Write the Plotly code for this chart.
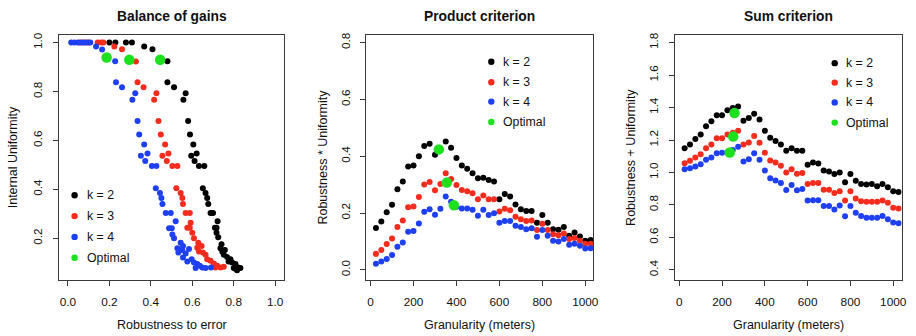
import plotly.graph_objects as go

# ---------------- data ----------------
# Panel 1: Balance of gains (Robustness to error vs Internal Uniformity)
bal_k2_x = [0.200, 0.229, 0.280, 0.309, 0.368, 0.408, 0.480, 0.480, 0.512, 0.568, 0.557, 0.580, 0.589,
            0.605, 0.621, 0.595, 0.611, 0.632, 0.658, 0.651, 0.664, 0.672, 0.677, 0.688, 0.700, 0.722,
            0.709, 0.717, 0.717, 0.725, 0.741, 0.736, 0.757, 0.745, 0.752, 0.768, 0.784, 0.775, 0.792,
            0.808, 0.800, 0.821, 0.832, 0.816, 0.810]
bal_k2_y = [1.000, 1.000, 1.000, 1.000, 0.984, 0.973, 0.924, 0.838, 0.818, 0.793, 0.766, 0.680, 0.624,
            0.584, 0.547, 0.538, 0.516, 0.496, 0.496, 0.405, 0.385, 0.365, 0.340, 0.304, 0.304, 0.270,
            0.243, 0.243, 0.223, 0.205, 0.176, 0.160, 0.152, 0.145, 0.133, 0.124, 0.115, 0.105, 0.101,
            0.095, 0.079, 0.081, 0.079, 0.070, 0.075]
bal_k3_x = [0.056, 0.070, 0.085, 0.100, 0.144, 0.160, 0.171, 0.224, 0.261, 0.328, 0.336, 0.365, 0.427,
            0.416, 0.437, 0.448, 0.469, 0.485, 0.456, 0.477, 0.504, 0.528, 0.523, 0.544, 0.552, 0.555,
            0.568, 0.588, 0.592, 0.576, 0.588, 0.600, 0.608, 0.629, 0.624, 0.645, 0.632, 0.651, 0.664,
            0.672, 0.688, 0.704, 0.720, 0.736, 0.712, 0.752]
bal_k3_y = [1.000, 1.000, 1.000, 1.000, 1.000, 1.000, 1.000, 0.984, 0.973, 0.923, 0.838, 0.818, 0.793,
            0.766, 0.680, 0.624, 0.584, 0.547, 0.538, 0.516, 0.496, 0.496, 0.405, 0.385, 0.365, 0.340,
            0.304, 0.304, 0.264, 0.243, 0.243, 0.223, 0.200, 0.182, 0.162, 0.169, 0.146, 0.142, 0.133,
            0.115, 0.108, 0.097, 0.088, 0.081, 0.081, 0.084]
bal_k4_x = [0.016, 0.032, 0.048, 0.064, 0.080, 0.094, 0.108, 0.136, 0.165, 0.228, 0.232, 0.261, 0.325,
            0.311, 0.336, 0.344, 0.368, 0.384, 0.352, 0.373, 0.405, 0.427, 0.424, 0.444, 0.451, 0.456,
            0.472, 0.496, 0.520, 0.488, 0.501, 0.504, 0.512, 0.544, 0.555, 0.528, 0.552, 0.584, 0.533,
            0.568, 0.555, 0.597, 0.576, 0.608, 0.624, 0.636, 0.648, 0.664, 0.616, 0.690]
bal_k4_y = [1.000, 1.000, 1.000, 1.000, 1.000, 1.000, 1.000, 0.984, 0.972, 0.924, 0.838, 0.818, 0.793,
            0.766, 0.680, 0.624, 0.584, 0.547, 0.538, 0.516, 0.496, 0.496, 0.405, 0.385, 0.365, 0.340,
            0.304, 0.304, 0.270, 0.241, 0.241, 0.216, 0.200, 0.182, 0.169, 0.160, 0.152, 0.156, 0.142,
            0.138, 0.122, 0.115, 0.105, 0.101, 0.095, 0.088, 0.081, 0.079, 0.079, 0.081]
bal_opt_x = [0.187, 0.296, 0.445]
bal_opt_y = [0.939, 0.930, 0.930]

# Panels 2 and 3: granularity (meters)
granularity = [25, 50, 75, 100, 125, 150, 175, 200, 225, 250, 275, 300, 325, 350, 375, 400, 425, 450,
               475, 500, 525, 550, 575, 600, 625, 650, 675, 700, 725, 750, 775, 800, 825, 850, 875, 900,
               925, 950, 975, 1000, 1025]

prod_k2 = [0.147, 0.170, 0.203, 0.229, 0.284, 0.311, 0.364, 0.367, 0.400, 0.436, 0.444, 0.405, 0.425,
           0.452, 0.430, 0.394, 0.367, 0.356, 0.340, 0.322, 0.324, 0.316, 0.311, 0.248, 0.267, 0.258,
           0.230, 0.213, 0.207, 0.207, 0.166, 0.193, 0.166, 0.143, 0.141, 0.151, 0.120, 0.131, 0.117,
           0.102, 0.105]
prod_k3 = [0.056, 0.070, 0.091, 0.110, 0.151, 0.174, 0.220, 0.223, 0.256, 0.300, 0.309, 0.280, 0.302,
           0.340, 0.320, 0.299, 0.281, 0.277, 0.270, 0.248, 0.262, 0.248, 0.248, 0.205, 0.215, 0.210,
           0.187, 0.178, 0.172, 0.174, 0.140, 0.162, 0.140, 0.125, 0.122, 0.128, 0.108, 0.112, 0.102,
           0.092, 0.092]
prod_k4 = [0.021, 0.029, 0.038, 0.052, 0.081, 0.096, 0.134, 0.137, 0.163, 0.204, 0.213, 0.194, 0.215,
           0.258, 0.240, 0.222, 0.216, 0.216, 0.211, 0.190, 0.211, 0.193, 0.199, 0.166, 0.172, 0.172,
           0.155, 0.151, 0.143, 0.146, 0.116, 0.140, 0.120, 0.102, 0.100, 0.108, 0.088, 0.092, 0.085,
           0.075, 0.076]
prod_opt_x = [318, 355, 388]
prod_opt_y = [0.424, 0.307, 0.227]

sum_k2 = [1.149, 1.173, 1.206, 1.234, 1.285, 1.316, 1.352, 1.352, 1.383, 1.397, 1.407, 1.318, 1.336,
          1.362, 1.326, 1.257, 1.214, 1.194, 1.173, 1.134, 1.149, 1.133, 1.133, 1.047, 1.061, 1.055,
          1.012, 1.006, 0.990, 1.000, 0.939, 0.990, 0.949, 0.929, 0.925, 0.929, 0.915, 0.929, 0.909,
          0.884, 0.880]
sum_k3 = [1.057, 1.072, 1.092, 1.112, 1.149, 1.173, 1.210, 1.210, 1.234, 1.245, 1.257, 1.173, 1.185,
          1.224, 1.183, 1.122, 1.073, 1.061, 1.041, 1.000, 1.020, 0.992, 0.996, 0.929, 0.935, 0.935,
          0.894, 0.894, 0.874, 0.884, 0.827, 0.884, 0.840, 0.823, 0.819, 0.819, 0.819, 0.827, 0.813,
          0.782, 0.778]
sum_k4 = [1.020, 1.026, 1.037, 1.051, 1.078, 1.092, 1.118, 1.122, 1.125, 1.139, 1.159, 1.067, 1.081,
          1.118, 1.078, 1.012, 0.965, 0.951, 0.935, 0.892, 0.922, 0.890, 0.898, 0.827, 0.829, 0.829,
          0.793, 0.793, 0.772, 0.797, 0.730, 0.793, 0.752, 0.731, 0.721, 0.721, 0.721, 0.731, 0.711,
          0.691, 0.687]
sum_opt_x = [258, 252, 236]
sum_opt_y = [1.366, 1.222, 1.123]

legend_labels = ["k = 2", "k = 3", "k = 4", "Optimal"]
titles = ["Balance of gains", "Product criterion", "Sum criterion"]
x_titles = ["Robustness to error", "Granularity (meters)", "Granularity (meters)"]
y_titles = ["Internal Uniformity", "Robustness * Uniformity", "Robustness + Uniformity"]

# ---------------- style ----------------
W, H = 916, 336
FONT = "Liberation Sans, Arial, Helvetica, sans-serif"
COLS = ["#000000", "#f42c1e", "#1e3ff2", "#1ee01e"]
DOT = 6
BIG = 10.5

def fx(px):
    return px / W

def fy(py):
    return 1 - py / H

fig = go.Figure()

def add_panel(idx, xs, ys_list, optx, opty):
    xa = "x" if idx == 1 else f"x{idx}"
    ya = "y" if idx == 1 else f"y{idx}"
    for xv, yv, c in zip(xs, ys_list, COLS[:3]):
        fig.add_trace(go.Scatter(x=xv, y=yv, mode="markers", xaxis=xa, yaxis=ya,
                                 marker=dict(color=c, size=DOT, line=dict(width=0)),
                                 showlegend=False, hoverinfo="skip"))
    fig.add_trace(go.Scatter(x=optx, y=opty, mode="markers", xaxis=xa, yaxis=ya,
                             marker=dict(color=COLS[3], size=BIG, line=dict(width=0)),
                             showlegend=False, hoverinfo="skip"))

add_panel(1, [bal_k2_x, bal_k3_x, bal_k4_x], [bal_k2_y, bal_k3_y, bal_k4_y], bal_opt_x, bal_opt_y)
add_panel(2, [granularity] * 3, [prod_k2, prod_k3, prod_k4], prod_opt_x, prod_opt_y)
add_panel(3, [granularity] * 3, [sum_k2, sum_k3, sum_k4], sum_opt_x, sum_opt_y)

# plot boxes (pixels)
boxes = [(59.3, 285.7), (368.3, 596.7), (678.3, 906.7)]
top_px, bot_px = 32.3, 279.2
ydom = [fy(bot_px), fy(top_px)]

axis_common = dict(showline=True, mirror=True, linecolor="#3a3a3a", linewidth=1,
                   ticks="outside", ticklen=5, tickcolor="#3a3a3a", tickwidth=1,
                   showgrid=False, zeroline=False,
                   tickfont=dict(family=FONT, size=11.8, color="#111111"))

xranges = [[-0.043, 1.043], [-20, 1038], [-22, 1040]]
xticks = [[0, 0.2, 0.4, 0.6, 0.8, 1.0], [0, 200, 400, 600, 800, 1000], [0, 200, 400, 600, 800, 1000]]
xfmt = [".1f", "d", "d"]
yranges = [[0.031, 1.031], [-0.035, 0.827], [0.339, 1.847]]
yticks = [[0.2, 0.4, 0.6, 0.8, 1.0], [0.0, 0.2, 0.4, 0.6, 0.8], [0.4, 0.6, 0.8, 1.0, 1.2, 1.4, 1.6, 1.8]]

layout = {}
for i in range(3):
    xname = "xaxis" if i == 0 else f"xaxis{i+1}"
    yname = "yaxis" if i == 0 else f"yaxis{i+1}"
    xa = "x" if i == 0 else f"x{i+1}"
    ya = "y" if i == 0 else f"y{i+1}"
    layout[xname] = dict(axis_common, domain=[fx(boxes[i][0]), fx(boxes[i][1])], range=xranges[i],
                         tickvals=xticks[i], tickformat=xfmt[i], anchor=ya, ticklabelstandoff=6)
    layout[yname] = dict(axis_common, domain=ydom, range=yranges[i], tickvals=yticks[i],
                         tickformat=".1f", anchor=xa, tickangle=-90, ticklabelstandoff=6)
fig.update_layout(**layout)

ann = []
shapes = []
ytitle_x = [13, 325, 635]
for i in range(3):
    cx = (boxes[i][0] + boxes[i][1]) / 2
    ann.append(dict(text="<b>" + titles[i] + "</b>", x=fx(cx), y=fy(14), xref="paper", yref="paper",
                    showarrow=False, xanchor="center", yanchor="middle",
                    font=dict(family=FONT, size=13.8, color="#111111")))
    ann.append(dict(text=x_titles[i], x=fx(cx), y=fy(325), xref="paper", yref="paper",
                    showarrow=False, xanchor="center", yanchor="middle",
                    font=dict(family=FONT, size=12.5, color="#111111")))
    ann.append(dict(text=y_titles[i], x=fx(ytitle_x[i]), y=fy((top_px + bot_px) / 2), xref="paper",
                    yref="paper", showarrow=False, xanchor="center", yanchor="middle", textangle=-90,
                    font=dict(family=FONT, size=12.5, color="#111111")))

# legends: (marker x px, text x px, row y px)
legend_pos = [(75, 85, [194, 215, 236, 257]),
              (494, 503.5, [59.3, 80, 99.5, 120]),
              (839.3, 848.5, [60.7, 80.3, 100.3, 120.7])]
for mx, tx, rows in legend_pos:
    for lab, col, ry in zip(legend_labels, COLS, rows):
        shapes.append(dict(type="circle", xref="paper", yref="paper", xsizemode="pixel",
                           ysizemode="pixel", xanchor=fx(mx), yanchor=fy(ry),
                           x0=-3.2, x1=3.2, y0=-3.2, y1=3.2, fillcolor=col, line=dict(width=0)))
        ann.append(dict(text=lab, x=fx(tx), y=fy(ry), xref="paper", yref="paper", showarrow=False,
                        xanchor="left", yanchor="middle",
                        font=dict(family=FONT, size=12.3, color="#111111")))

fig.update_layout(width=W, height=H, margin=dict(l=0, r=0, t=0, b=0),
                  paper_bgcolor="white", plot_bgcolor="white",
                  annotations=ann, shapes=shapes, showlegend=False)

fig.write_html("out.html", config={"displayModeBar": False},
               post_script="document.body.style.margin='0px';document.body.style.padding='0px';"
                           "document.body.style.overflow='hidden';")
